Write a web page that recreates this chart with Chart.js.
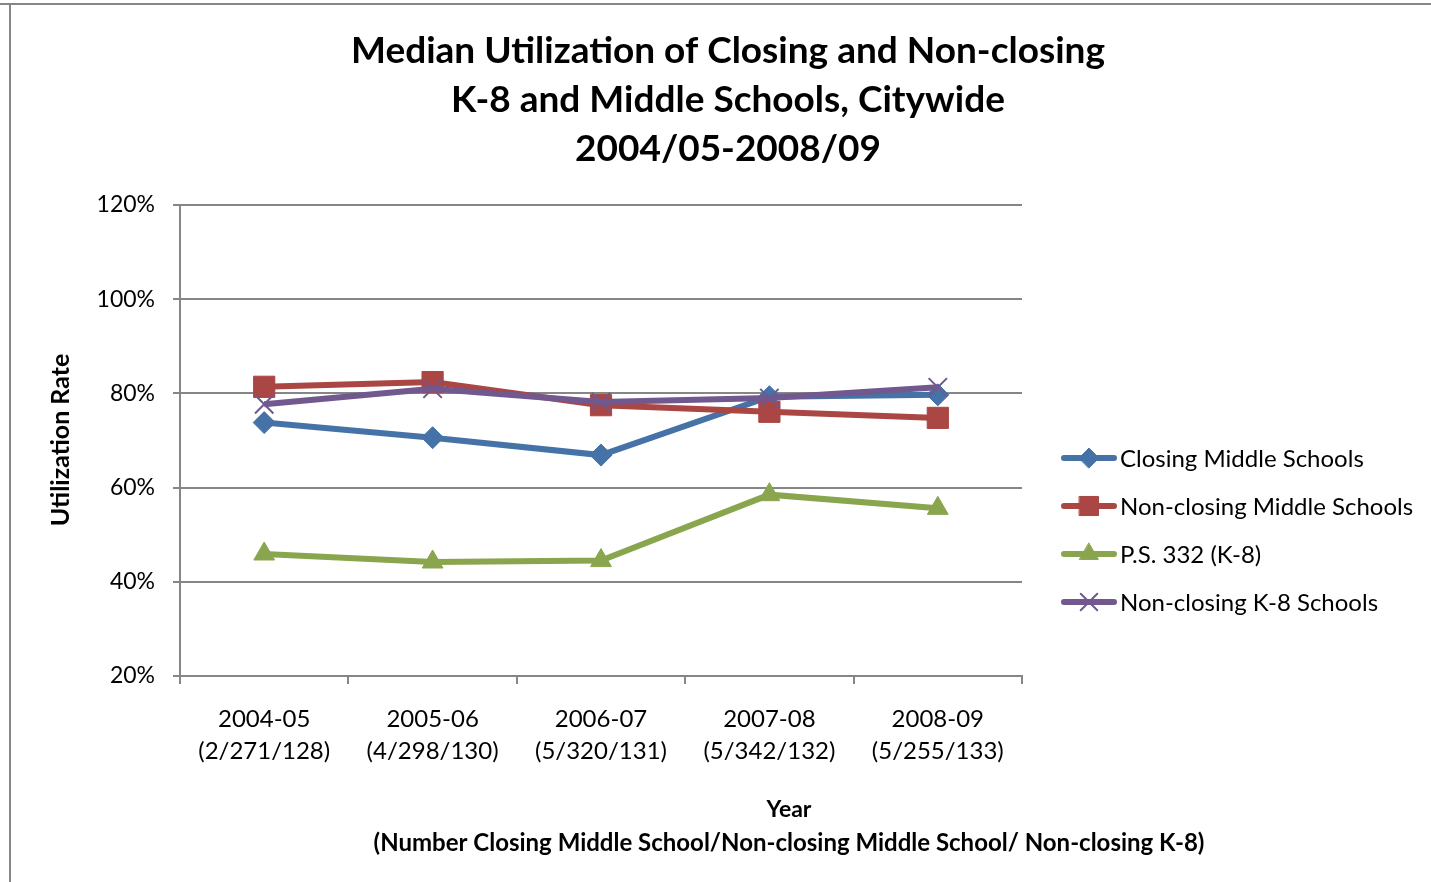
<!DOCTYPE html>
<html>
<head>
<meta charset="utf-8">
<script src="https://cdn.jsdelivr.net/npm/chart.js@4.4.1/dist/chart.umd.min.js"></script>
<style>
  html, body { margin: 0; padding: 0; background: #fff; }
  #wrap { width: 1431px; height: 882px; position: relative; }
</style>
</head>
<body>
<div id="wrap"><canvas id="utilChart" width="1431" height="882"></canvas></div>
<script>
(function() {
    "use strict";

    const years = ['2004-05', '2005-06', '2006-07', '2007-08', '2008-09'];
    const counts = ['(2/271/128)', '(4/298/130)', '(5/320/131)', '(5/342/132)', '(5/255/133)'];
    const closingMiddle = [73.8, 70.6, 66.9, 79.3, 79.7];
    const nonClosingMiddle = [81.4, 82.4, 77.5, 76.1, 74.8];
    const ps332 = [45.9, 44.2, 44.5, 58.5, 55.6];
    const nonClosingK8 = [77.7, 81.0, 78.2, 79.0, 81.3];
    const yTicks = [20, 40, 60, 80, 100, 120];

    const FONT = 'Lato, "Open Sans", sans-serif';
    const GRID = '#868686';

    const series = [
        { label: 'Closing Middle Schools', data: closingMiddle, color: '#4572A7', style: 'rectRot', r: 11 },
        { label: 'Non-closing Middle Schools', data: nonClosingMiddle, color: '#AA4643', style: 'rect', r: 15 },
        { label: 'P.S. 332 (K-8)', data: ps332, color: '#89A54E', style: 'triangle', r: 12 },
        { label: 'Non-closing K-8 Schools', data: nonClosingK8, color: '#71588F', style: 'crossRot', r: 13 }
    ];

    // title, axis titles, legend and outer frame drawn by hand
    const decor = {
        id: 'decor',
        beforeDraw(chart) {
            const ctx = chart.ctx;
            ctx.save();
            ctx.fillStyle = '#fff';
            ctx.fillRect(0, 0, chart.width, chart.height);
            ctx.strokeStyle = GRID;
            ctx.lineWidth = 2;
            ctx.beginPath();
            ctx.moveTo(0, 4); ctx.lineTo(chart.width, 4);
            ctx.moveTo(10, 4); ctx.lineTo(10, chart.height);
            ctx.stroke();
            ctx.restore();
        },
        afterDraw(chart) {
            const ctx = chart.ctx;
            ctx.save();
            ctx.fillStyle = '#000';
            ctx.textAlign = 'center';
            ctx.textBaseline = 'middle';
            ctx.font = 'bold 37px ' + FONT;
            ['Median Utilization of Closing and Non-closing',
             'K-8 and Middle Schools, Citywide',
             '2004/05-2008/09'].forEach((t, i) => ctx.fillText(t, 728, 51 + i * 49));

            ctx.font = 'bold 23px ' + FONT;
            ctx.fillText('Year', 789, 810);
            ctx.font = 'bold 24px ' + FONT;
            ctx.fillText('(Number Closing Middle School/Non-closing Middle School/ Non-closing K-8)', 789, 843);

            ctx.save();
            ctx.translate(61, 440);
            ctx.rotate(-Math.PI / 2);
            ctx.font = 'bold 25px ' + FONT;
            ctx.fillText('Utilization Rate', 0, 0);
            ctx.restore();

            // legend: line with marker in the middle
            ctx.font = '24px ' + FONT;
            ctx.textAlign = 'left';
            series.forEach((s, i) => {
                const y = 458 + i * 48;
                ctx.strokeStyle = s.color;
                ctx.fillStyle = s.color;
                ctx.lineWidth = 6;
                ctx.lineCap = 'round';
                ctx.beginPath();
                ctx.moveTo(1064, y); ctx.lineTo(1114, y);
                ctx.stroke();
                ctx.lineWidth = s.style === 'crossRot' ? 2 : 1;
                Chart.helpers.drawPoint(ctx, {
                    pointStyle: s.style, radius: s.r * 0.9, borderWidth: ctx.lineWidth
                }, 1089, y);
                ctx.fillStyle = '#000';
                ctx.fillText(s.label, 1120, y + 1);
            });
            ctx.restore();
        }
    };

    document.addEventListener("DOMContentLoaded", () => {
        const c1 = document.getElementById('utilChart');

        new Chart(c1, {
            type: 'line',
            data: {
                labels: years.map((y, i) => [y, counts[i]]),
                datasets: series.map((s, i) => ({
                    label: s.label,
                    data: s.data,
                    borderColor: s.color,
                    backgroundColor: s.color,
                    pointBorderColor: s.color,
                    pointBackgroundColor: s.color,
                    pointStyle: s.style,
                    pointRadius: s.r,
                    pointBorderWidth: s.style === 'crossRot' ? 2 : 1,
                    borderWidth: 6,
                    tension: 0,
                    fill: false,
                    order: 3 - i
                }))
            },
            options: {
                responsive: false,
                animation: false,
                layout: { padding: { left: 0, right: 409, top: 205, bottom: 0 } },
                plugins: {
                    legend: { display: false },
                    title: { display: false },
                    tooltip: { enabled: false }
                },
                scales: {
                    x: {
                        offset: true,
                        grid: {
                            offset: true,
                            drawOnChartArea: false,
                            drawTicks: true,
                            tickLength: 8,
                            color: GRID,
                            lineWidth: 2
                        },
                        border: { color: GRID, width: 2 },
                        ticks: {
                            color: '#000',
                            font: { family: FONT, size: 24, lineHeight: 1.33 },
                            padding: 19,
                            maxRotation: 0,
                            autoSkip: false
                        },
                        afterFit(scale) { scale.height = 206; }
                    },
                    y: {
                        min: 20,
                        max: 120,
                        afterBuildTicks(scale) { scale.ticks = yTicks.map(v => ({ value: v })); },
                        grid: {
                            color: GRID,
                            lineWidth: 2,
                            drawTicks: true,
                            tickLength: 7
                        },
                        border: { color: GRID, width: 2 },
                        ticks: {
                            color: '#000',
                            font: { family: FONT, size: 23 },
                            padding: 18,
                            callback: v => v + '%'
                        },
                        afterFit(scale) { scale.width = 180; }
                    }
                }
            },
            plugins: [decor]
        });
    });
})();
</script>
</body>
</html>
